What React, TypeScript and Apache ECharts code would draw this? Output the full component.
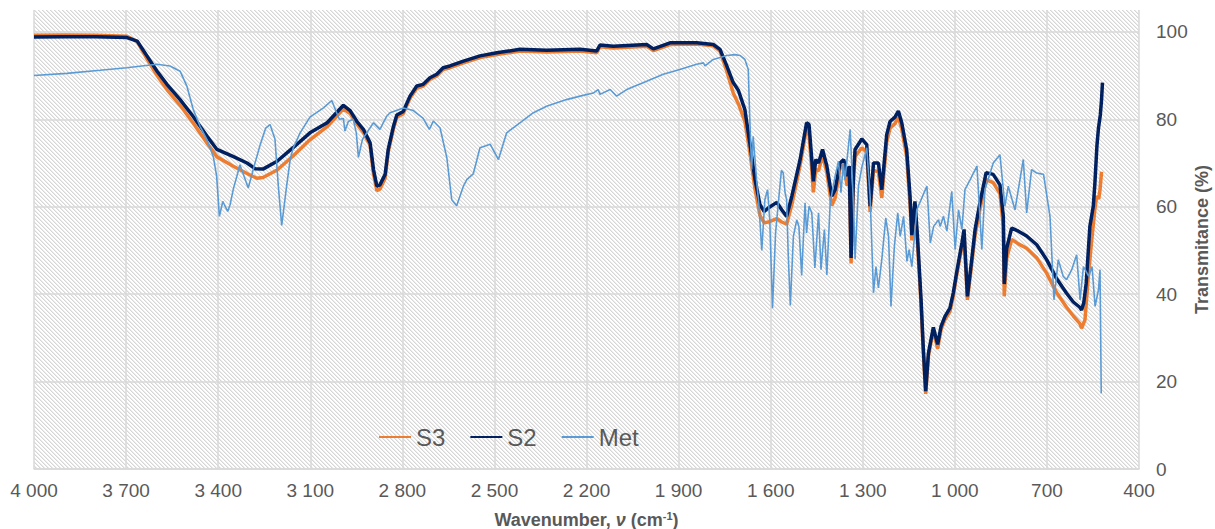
import { useEffect, useRef } from "react";
import * as echarts from "echarts";

// ---------- data ----------
const seriesNames = ["S3", "S2", "Met"];

const s3Wavenumber = [
  4000, 3900, 3800, 3697, 3664, 3632, 3599, 3567, 3524, 3482, 3436, 3404, 3352, 3306, 3274, 3254, 3208, 3156, 3101,
  3045, 2992, 2970, 2949, 2927, 2905, 2894, 2883, 2873, 2856, 2846, 2829, 2818, 2797, 2775, 2753, 2732, 2710, 2688,
  2667, 2645, 2601, 2547, 2492, 2417, 2330, 2221, 2167, 2156, 2113, 2004, 1982, 1928, 1841, 1787, 1765, 1743, 1722,
  1705, 1684, 1668, 1651, 1635, 1621, 1608, 1580, 1564, 1548, 1531, 1504, 1483, 1475, 1466, 1461, 1453, 1444, 1431,
  1417, 1401, 1390, 1374, 1362, 1351, 1344, 1338, 1330, 1325, 1303, 1287, 1276, 1265, 1249, 1238, 1222, 1211, 1195,
  1184, 1173, 1157, 1146, 1140, 1130, 1122, 1110, 1103, 1095, 1086, 1070, 1056, 1045, 1032, 1016, 1005, 994, 977, 970,
  959, 945, 934, 918, 898, 875, 853, 842, 839, 831, 815, 793, 766, 733, 701, 668, 636, 614, 593, 587, 576, 566, 555,
  544, 538, 531, 527, 522,
];
const s3Transmittance = [
  99.2, 99.3, 99.2, 99.0, 97.8, 93.8, 90.0, 86.8, 83.2, 79.2, 74.5, 71.4, 69.3, 67.6, 66.5, 66.7, 68.4, 71.6, 75.3,
  78.3, 82.4, 81.3, 79.0, 77.0, 74.0, 67.5, 63.7, 64.0, 66.5, 72.5, 77.8, 80.5, 81.3, 84.8, 87.1, 87.6, 89.1, 89.9,
  91.4, 91.8, 92.9, 94.1, 94.8, 95.6, 95.4, 95.6, 95.2, 96.6, 96.3, 96.7, 95.7, 97.1, 97.2, 96.8, 95.6, 91.0, 86.0,
  83.5, 79.5, 72.5, 64.0, 58.0, 56.3, 56.5, 57.3, 56.5, 56.0, 60.5, 69.5, 78.0, 76.5, 68.5, 63.3, 68.5, 68.2, 71.8,
  67.8, 60.3, 62.0, 68.8, 69.5, 64.8, 67.0, 47.0, 66.0, 71.5, 73.5, 72.5, 58.8, 68.3, 68.0, 62.0, 74.8, 78.0, 79.0,
  80.5, 77.8, 71.5, 60.5, 52.3, 59.8, 52.0, 37.5, 27.0, 17.2, 25.8, 31.8, 27.5, 31.8, 34.2, 36.0, 39.5, 44.3, 50.8,
  53.5, 38.7, 46.8, 53.5, 59.5, 66.2, 65.5, 63.0, 55.5, 39.5, 48.2, 52.5, 51.5, 50.5, 48.3, 44.8, 40.3, 37.0, 35.0,
  33.3, 32.2, 34.1, 43.3, 51.7, 59.3, 62.4, 61.8, 63.9, 68.0,
];

const s2Wavenumber = [
  4000, 3900, 3800, 3697, 3664, 3632, 3599, 3567, 3524, 3482, 3436, 3404, 3352, 3306, 3280, 3254, 3208, 3156, 3101,
  3045, 2992, 2970, 2949, 2927, 2905, 2894, 2883, 2873, 2856, 2846, 2829, 2818, 2797, 2775, 2753, 2732, 2710, 2688,
  2667, 2645, 2601, 2547, 2492, 2417, 2330, 2221, 2167, 2156, 2113, 2004, 1982, 1928, 1841, 1787, 1765, 1743, 1722,
  1705, 1684, 1668, 1651, 1635, 1621, 1608, 1580, 1564, 1548, 1531, 1504, 1483, 1475, 1466, 1461, 1453, 1444, 1431,
  1417, 1401, 1390, 1374, 1362, 1351, 1344, 1338, 1330, 1325, 1303, 1287, 1276, 1265, 1249, 1238, 1222, 1211, 1195,
  1184, 1173, 1157, 1146, 1140, 1130, 1122, 1110, 1103, 1095, 1086, 1070, 1056, 1045, 1032, 1016, 1005, 994, 977, 970,
  959, 945, 934, 918, 898, 875, 853, 842, 839, 831, 815, 793, 766, 733, 701, 668, 636, 614, 593, 587, 580, 572, 560,
  549, 544, 537, 532, 526, 522, 519,
];
const s2Transmittance = [
  98.8, 98.9, 98.9, 98.7, 97.9, 94.5, 91.0, 88.0, 84.5, 80.7, 76.1, 73.1, 71.5, 70.0, 68.7, 68.6, 70.4, 73.5, 76.9,
  79.2, 83.2, 82.0, 79.6, 77.7, 74.6, 68.5, 64.7, 65.0, 67.4, 73.1, 78.4, 81.0, 81.8, 85.3, 87.6, 88.0, 89.5, 90.3,
  91.8, 92.2, 93.3, 94.5, 95.2, 96.0, 95.8, 96.0, 95.6, 97.0, 96.7, 97.1, 96.1, 97.5, 97.5, 97.1, 96.0, 92.2, 88.4,
  86.6, 82.2, 74.6, 66.2, 60.5, 58.9, 59.7, 61.0, 59.3, 57.8, 62.4, 70.8, 79.2, 78.8, 70.8, 65.8, 70.8, 70.0, 73.1,
  69.3, 62.4, 63.9, 70.0, 70.8, 67.0, 69.3, 48.3, 67.7, 73.1, 75.5, 74.2, 60.1, 70.0, 70.0, 63.9, 76.5, 79.5, 80.5,
  81.9, 79.2, 73.1, 62.4, 53.5, 61.2, 53.5, 38.7, 28.0, 17.8, 26.5, 32.4, 28.5, 32.6, 34.9, 36.8, 40.3, 45.0, 51.7,
  54.8, 39.5, 47.9, 54.8, 61.0, 67.8, 67.4, 65.0, 57.8, 42.3, 50.5, 55.1, 54.4, 53.3, 51.3, 47.9, 43.5, 40.2, 38.2,
  37.0, 36.4, 38.0, 42.5, 55.5, 60.1, 65.0, 74.0, 78.0, 81.0, 84.5, 88.4,
];

const metWavenumber = [
  4000, 3893, 3785, 3698, 3600, 3557, 3524, 3502, 3481, 3459, 3437, 3416, 3405, 3396, 3385, 3369, 3361, 3351, 3329,
  3302, 3280, 3263, 3245, 3231, 3215, 3204, 3193, 3177, 3165, 3155, 3133, 3101, 3057, 3030, 3014, 3005, 2992, 2987,
  2976, 2960, 2950, 2943, 2930, 2894, 2873, 2851, 2840, 2797, 2764, 2732, 2712, 2699, 2677, 2655, 2639, 2623, 2601,
  2590, 2569, 2547, 2514, 2487, 2460, 2417, 2373, 2330, 2265, 2221, 2178, 2162, 2156, 2123, 2102, 2069, 2004, 1950,
  1896, 1841, 1819, 1814, 1787, 1743, 1716, 1700, 1684, 1673, 1668, 1662, 1657, 1651, 1646, 1638, 1629, 1619, 1610,
  1603, 1594, 1584, 1576, 1565, 1559, 1553, 1548, 1543, 1536, 1526, 1515, 1508, 1499, 1488, 1483, 1475, 1466, 1456,
  1444, 1436, 1425, 1417, 1406, 1390, 1379, 1371, 1363, 1358, 1341, 1330, 1325, 1314, 1303, 1287, 1276, 1265, 1257,
  1249, 1238, 1225, 1216, 1208, 1197, 1186, 1178, 1167, 1156, 1149, 1140, 1124, 1091, 1080, 1069, 1053, 1048, 1037,
  1026, 1010, 999, 988, 977, 967, 950, 928, 912, 902, 875, 853, 837, 826, 804, 777, 766, 750, 733, 711, 690, 677, 663,
  647, 636, 619, 603, 592, 581, 564, 553, 543, 532, 527, 523,
];
const metTransmittance = [
  90.0, 90.5, 91.2, 91.8, 92.6, 92.2, 91.0, 87.6, 82.2, 78.4, 75.4, 71.5, 67.0, 57.8, 61.2, 58.9, 60.5, 63.9, 69.6,
  64.3, 70.0, 74.2, 78.0, 78.8, 75.5, 64.7, 55.7, 64.7, 71.0, 73.5, 76.9, 80.5, 82.6, 84.3, 81.5, 80.0, 80.2, 77.3,
  79.5, 80.0, 76.9, 71.3, 75.4, 79.2, 77.7, 80.7, 81.5, 82.6, 82.0, 80.2, 77.7, 79.6, 78.0, 71.2, 61.6, 60.2, 64.7,
  66.2, 67.5, 73.5, 74.3, 70.8, 76.9, 79.2, 81.5, 83.0, 84.5, 85.3, 86.0, 86.8, 85.7, 86.8, 85.3, 86.8, 88.7, 90.3,
  91.4, 92.6, 92.9, 92.2, 93.7, 94.6, 94.8, 94.6, 93.7, 91.4, 80.0, 68.5, 76.1, 70.8, 66.2, 60.1, 50.0, 61.6, 63.9,
  57.0, 36.8, 54.0, 60.1, 68.3, 67.7, 63.2, 61.6, 49.4, 37.4, 53.2, 57.0, 55.5, 44.3, 60.9, 54.0, 60.1, 58.6, 46.0,
  58.6, 45.6, 54.8, 44.4, 60.9, 67.0, 70.4, 63.2, 70.0, 66.2, 77.7, 60.0, 48.0, 64.7, 69.0, 73.5, 62.4, 40.3, 46.3,
  41.4, 47.9, 57.4, 53.2, 37.2, 50.9, 58.6, 53.2, 57.8, 47.5, 50.2, 46.3, 59.3, 64.7, 51.7, 55.5, 57.0, 55.5, 57.8,
  54.4, 63.5, 50.2, 59.3, 54.8, 63.9, 66.2, 69.3, 50.2, 63.9, 70.0, 71.9, 60.1, 64.7, 59.3, 70.8, 58.6, 68.5, 67.7,
  67.4, 57.8, 38.7, 47.9, 44.1, 43.3, 45.6, 49.0, 38.7, 46.3, 44.1, 46.3, 37.2, 41.0, 45.6, 17.3,
];

const xMin = 400;
const xMax = 4000;
const xStep = 300;
const yMin = 0;
const yMax = 105;
const yStep = 20;

// ---------- styling ----------
const FONT = '"Liberation Sans", Arial, sans-serif';
const TEXT = "#595959";
const GRID = "#d9d9d9";
const COLORS = { S3: "#ED7D31", S2: "#002060", Met: "#5B9BD5" };

function formatWavenumber(v: number): string {
  if (v >= 1000) {
    const th = Math.floor(v / 1000);
    const rest = String(v % 1000).padStart(3, "0");
    return `${th} ${rest}`;
  }
  return String(v);
}

function makeHatch(): string {
  const c = document.createElement("canvas");
  c.width = 4;
  c.height = 4;
  const ctx = c.getContext("2d")!;
  ctx.fillStyle = "#ffffff";
  ctx.fillRect(0, 0, 4, 4);
  for (let y = 0; y < 4; y++) {
    for (let x = 0; x < 4; x++) {
      const d = (((x - y) % 4) + 4) % 4;
      if (d === 0) {
        ctx.fillStyle = "#d6d6d6";
        ctx.fillRect(x, y, 1, 1);
      } else if (d === 1) {
        ctx.fillStyle = "#ebebeb";
        ctx.fillRect(x, y, 1, 1);
      }
    }
  }
  return c.toDataURL();
}

function pairs(xs: number[], ys: number[]) {
  return xs.map((x, i) => [x, ys[i]]);
}

export default function App() {
  const ref = useRef<HTMLDivElement>(null);

  useEffect(() => {
    if (!ref.current) return;
    const chart = echarts.init(ref.current, undefined, { renderer: "svg" });
    const hatch = makeHatch();

    const option: any = {
      animation: false,
      backgroundColor: "#ffffff",
      textStyle: { fontFamily: FONT },
      grid: {
        left: 34,
        right: 76,
        top: 10,
        bottom: 60,
        show: true,
        borderWidth: 0,
        containLabel: false,
        outerBoundsMode: "none",
        backgroundColor: { image: hatch, repeat: "repeat", imageWidth: 4, imageHeight: 4 },
      },
      legend: {
        data: seriesNames,
        left: 373,
        top: 420,
        itemWidth: 32,
        itemHeight: 14,
        itemGap: 24,
        itemStyle: { opacity: 0 },
        textStyle: { fontSize: 24, color: TEXT, fontFamily: FONT },
      },
      xAxis: {
        type: "value",
        inverse: true,
        min: xMin,
        max: xMax,
        interval: xStep,
        axisLine: { show: true, lineStyle: { color: GRID, width: 1.5 } },
        axisTick: { show: false },
        axisLabel: {
          formatter: formatWavenumber,
          fontSize: 19,
          color: TEXT,
          margin: 12,
          fontFamily: FONT,
        },
        splitLine: { show: true, lineStyle: { color: GRID, width: 1.5 } },
        name: "Wavenumber, {i|ν} (cm{sup|-1})",
        nameLocation: "middle",
        nameGap: 41,
        nameMoveOverlap: false,
        nameTextStyle: {
          fontSize: 18,
          fontWeight: "bold",
          color: TEXT,
          fontFamily: FONT,
          rich: {
            i: { fontSize: 18, fontWeight: "bold", fontStyle: "italic", color: TEXT, fontFamily: FONT },
            sup: { fontSize: 11, fontWeight: "bold", color: TEXT, fontFamily: FONT, verticalAlign: "top", padding: [0, 0, 8, 0] },
          },
        },
      },
      yAxis: {
        type: "value",
        position: "right",
        min: yMin,
        max: yMax,
        interval: yStep,
        axisLine: { show: false },
        axisTick: { show: false },
        axisLabel: { fontSize: 19, color: TEXT, margin: 17, showMaxLabel: false, fontFamily: FONT },
        splitLine: { show: true, showMaxLine: false, lineStyle: { color: GRID, width: 1.5 } },
        name: "Transmitance (%)",
        nameLocation: "middle",
        nameRotate: 90,
        nameGap: 54,
        nameMoveOverlap: false,
        nameTextStyle: { fontSize: 18, fontWeight: "bold", color: TEXT, fontFamily: FONT },
      },
      series: [
        {
          name: "S3",
          type: "line",
          data: pairs(s3Wavenumber, s3Transmittance),
          showSymbol: false,
          symbol: "none",
          lineStyle: { color: COLORS.S3, width: 3.5 },
          itemStyle: { color: COLORS.S3 },
          z: 2,
        },
        {
          name: "S2",
          type: "line",
          data: pairs(s2Wavenumber, s2Transmittance),
          showSymbol: false,
          symbol: "none",
          lineStyle: { color: COLORS.S2, width: 3.5 },
          itemStyle: { color: COLORS.S2 },
          z: 3,
        },
        {
          name: "Met",
          type: "line",
          data: pairs(metWavenumber, metTransmittance),
          showSymbol: false,
          symbol: "none",
          lineStyle: { color: COLORS.Met, width: 1.6 },
          itemStyle: { color: COLORS.Met },
          z: 4,
        },
      ],
    };

    chart.setOption(option);
    return () => chart.dispose();
  }, []);

  return (
    <div
      ref={ref}
      style={{ position: "absolute", left: 0, top: 0, width: 1215, height: 529, background: "#fff" }}
    />
  );
}
